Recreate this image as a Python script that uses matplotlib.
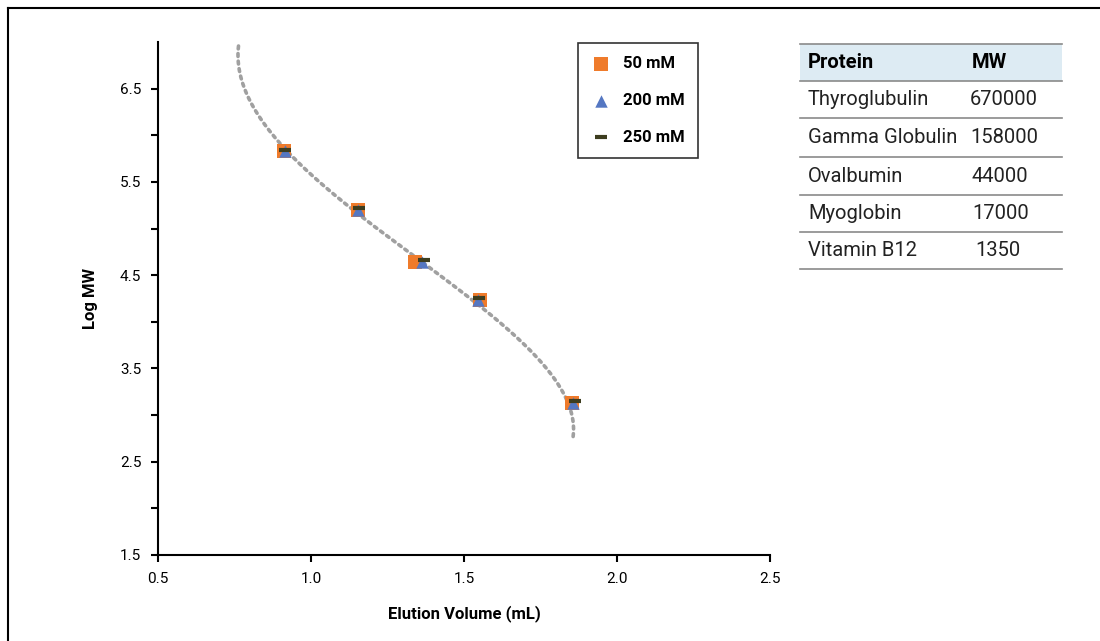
import numpy as np
import matplotlib
matplotlib.use("Agg")
import matplotlib.pyplot as plt
from matplotlib.lines import Line2D
from matplotlib.patches import Rectangle

plt.rcParams['font.family'] = ['Roboto', 'DejaVu Sans']

# ---- data ----
proteins = ["Thyroglubulin", "Gamma Globulin", "Ovalbumin", "Myoglobin", "Vitamin B12"]
mw = [670000, 158000, 44000, 17000, 1350]
log_mw = np.log10(mw)

elution_50 = [0.913, 1.154, 1.341, 1.552, 1.854]
elution_200 = [0.915, 1.155, 1.363, 1.546, 1.857]
elution_250 = [0.916, 1.157, 1.370, 1.549, 1.864]
series_labels = ["50 mM", "200 mM", "250 mM"]

# polynomial trendline (elution volume vs log MW)
trend_logmw = [7.00, 6.76, 6.55, 6.34, 6.12, 5.91, 5.52, 4.91, 4.41, 3.77, 3.41, 3.20, 2.91, 2.77]
trend_elution = [0.762, 0.768, 0.779, 0.806, 0.844, 0.893, 1.029, 1.247, 1.465, 1.683, 1.792, 1.836, 1.857, 1.855]

x_ticks = [0.5, 1.0, 1.5, 2.0, 2.5]
y_ticks = [1.5, 2.0, 2.5, 3.0, 3.5, 4.0, 4.5, 5.0, 5.5, 6.0, 6.5]

fig = plt.figure(figsize=(11, 6.41), dpi=100)
ax = fig.add_axes([0.1436, 0.1342, 0.5564, 0.8003])

# smooth polynomial trendline through the read values
coef = np.polyfit(trend_logmw, trend_elution, 5)
ty = np.linspace(min(trend_logmw), max(trend_logmw), 300)
ax.plot(np.polyval(coef, ty), ty, color="#a0a0a0", lw=2.6,
        linestyle=(0, (0.8, 1.3)), dash_capstyle="round", zorder=2)

ax.scatter(elution_50, log_mw, marker="s", s=100, color="#EF7B2B", zorder=3, label=series_labels[0], linewidths=0)
ax.scatter(elution_200, log_mw, marker="^", s=80, color="#5577C2", zorder=4, label=series_labels[1], linewidths=0)
ax.scatter(elution_250, log_mw + 0.02, marker="_", s=70, color="#3D3D1F", zorder=5, label=series_labels[2], linewidths=3)

ax.set_xlim(0.5, 2.5)
ax.set_ylim(1.5, 7.0)
ax.set_xticks(x_ticks)
ax.set_xticklabels([f"{v:.1f}" for v in x_ticks])
ax.set_yticks(y_ticks)
ax.set_yticklabels([f"{v:.1f}" if (v - 1.5) % 1 == 0 else "" for v in y_ticks])
for s in ["top", "right"]:
    ax.spines[s].set_visible(False)
for s in ["left", "bottom"]:
    ax.spines[s].set_linewidth(1.5)
ax.tick_params(axis="both", direction="out", length=5, width=1.5, labelsize=11, pad=7)
ax.set_xlabel("Elution Volume (mL)", fontsize=12, fontweight="bold", labelpad=14)
ax.set_ylabel("Log MW", fontsize=12, fontweight="bold", labelpad=16)

leg = ax.legend(loc="upper left", bbox_to_anchor=(0.686, 0.998), borderaxespad=0, frameon=True, fancybox=False,
                edgecolor="black", prop={"weight": "bold", "size": 12},
                handletextpad=0.7, handlelength=1.2, labelspacing=1.3, borderpad=0.8, scatterpoints=1)
leg.get_frame().set_linewidth(1.2)

# table
tx0, tx1 = 800 / 1100, 1062 / 1100
col2 = 970 / 1100
row_edges = [44, 81, 118, 157, 195, 232, 269]
def fy(p):
    return 1 - p / 641
fig.add_artist(Rectangle((tx0, fy(row_edges[1])), tx1 - tx0, fy(row_edges[0]) - fy(row_edges[1]),
                         transform=fig.transFigure, facecolor="#DDEBF3", edgecolor="none"))
for i, e in enumerate(row_edges):
    fig.add_artist(Line2D([tx0, tx1], [fy(e), fy(e)], transform=fig.transFigure,
                          color="#8a8a8a", lw=1.2))
hc = fy((row_edges[0] + row_edges[1]) / 2)
fs = 14.5
fig.text(808 / 1100, hc, "Protein", fontsize=fs, fontweight="bold", va="center", ha="left")
fig.text(col2 + 2 / 1100, hc, "MW", fontsize=fs, fontweight="bold", va="center", ha="left")
for i, (p, m) in enumerate(zip(proteins, mw)):
    c = fy((row_edges[i + 1] + row_edges[i + 2]) / 2)
    fig.text(808 / 1100, c, p, fontsize=fs, va="center", ha="left", color="#222222")
    fig.text(col2 + (0 if m >= 100000 else 2 / 1100) + (3 / 1100 if m < 10000 else 0), c, str(m),
             fontsize=fs, va="center", ha="left", color="#222222")

# outer border (top and left)
fig.add_artist(Line2D([8 / 1100, 1], [fy(8), fy(8)], transform=fig.transFigure, color="black", lw=1.5))
fig.add_artist(Line2D([8 / 1100, 8 / 1100], [0, fy(8)], transform=fig.transFigure, color="black", lw=1.5))

fig.savefig("out.png", dpi=100)
